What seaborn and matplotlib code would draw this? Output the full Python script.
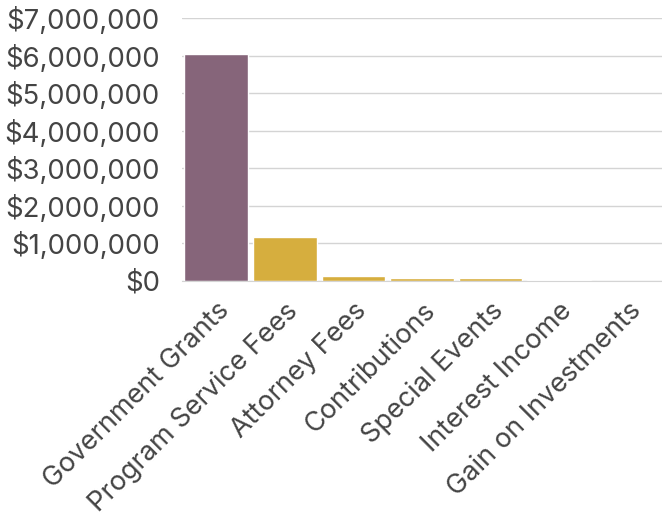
import matplotlib
matplotlib.use("Agg")
import matplotlib.pyplot as plt
import matplotlib.ticker as mticker
import seaborn as sns
import pandas as pd

categories = [
    "Government Grants",
    "Program Service Fees",
    "Attorney Fees",
    "Contributions",
    "Special Events",
    "Interest Income",
    "Gain on Investments",
]
revenue = [6040000, 1170000, 130000, 90000, 70000, 20000, 10000]
bar_colors = ["#86657A", "#D6AE3E", "#D6AE3E", "#D6AE3E", "#D6AE3E", "#D6AE3E", "#D6AE3E"]
y_ticks = [0, 1000000, 2000000, 3000000, 4000000, 5000000, 6000000, 7000000]

df = pd.DataFrame({"category": categories, "revenue": revenue})

sns.set_style("white")
plt.rcParams["font.family"] = ["Inter", "DejaVu Sans"]

fig, ax = plt.subplots(figsize=(6.62, 5.19), dpi=100)

sns.barplot(
    data=df, x="category", y="revenue", hue="category",
    palette=bar_colors, legend=False, width=0.93, ax=ax, saturation=1,
)

ax.set_ylim(0, 7000000)
ax.set_yticks(y_ticks)
ax.yaxis.set_major_formatter(mticker.FuncFormatter(lambda v, p: f"${v:,.0f}"))
ax.grid(True, axis="y", color="#d4d4d4", linewidth=1)
ax.set_axisbelow(True)
for s in ["top", "right", "left"]:
    ax.spines[s].set_visible(False)
ax.spines["bottom"].set_color("#d4d4d4")

ax.set_xlabel("")
ax.set_ylabel("")
ax.tick_params(axis="y", length=0, labelsize=19.8, colors="#444444", pad=16)
ax.tick_params(axis="x", length=0, labelsize=19.5, colors="#444444", pad=12)
plt.setp(ax.get_xticklabels(), rotation=45, ha="right", rotation_mode="anchor")

fig.subplots_adjust(left=0.275, right=1.0, top=0.965, bottom=0.4586)
fig.savefig("out.png", dpi=100)
